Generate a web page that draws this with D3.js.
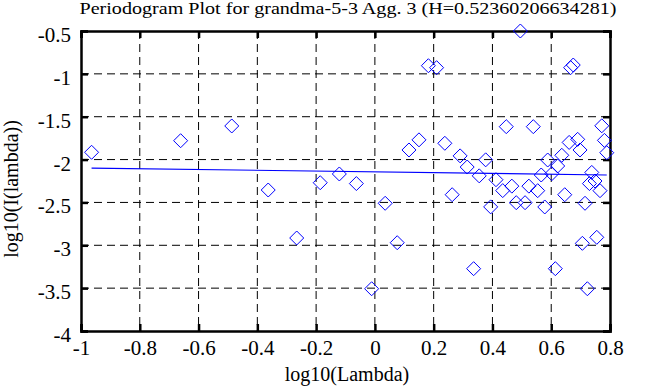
<!DOCTYPE html>
<html>
<head>
<meta charset="utf-8">
<script src="https://cdn.jsdelivr.net/npm/d3@7"></script>
<style>
  body { margin: 0; background: #fff; }
  svg text { font-family: "Liberation Serif"; }
</style>
</head>
<body>
<div id="chart"></div>
<script>
// periodogram points, log10(lambda) vs log10(I(lambda))
const xVals = [-0.964, -0.661, -0.487, -0.363, -0.266, -0.186, -0.121, -0.063, -0.011, 0.035,
  0.076, 0.116, 0.150, 0.182, 0.210, 0.238, 0.263, 0.290, 0.314, 0.336,
  0.355, 0.377, 0.394, 0.412, 0.435, 0.447, 0.466, 0.481, 0.495, 0.511,
  0.524, 0.539, 0.554, 0.566, 0.578, 0.588, 0.602, 0.622, 0.614, 0.636,
  0.646, 0.661, 0.666, 0.675, 0.690, 0.698, 0.706, 0.715, 0.723, 0.730,
  0.738, 0.749, 0.755, 0.766, 0.772, 0.781, 0.789];
const yVals = [-1.915, -1.780, -1.608, -2.355, -2.915, -2.270, -2.168, -2.280, -3.507, -2.510,
  -2.970, -1.888, -1.770, -0.905, -0.928, -1.810, -2.410, -1.957, -2.087, -3.273,
  -2.190, -2.003, -2.552, -2.235, -2.362, -1.616, -2.310, -2.503, -0.500, -2.503,
  -2.310, -1.616, -2.363, -2.180, -2.553, -2.005, -2.165, -2.075, -3.273, -1.950,
  -2.410, -1.800, -0.928, -0.897, -1.764, -1.888, -2.977, -2.510, -3.507, -2.280,
  -2.150, -2.250, -2.907, -2.363, -1.606, -1.776, -1.920];
// least squares fit end points
const fitX = [-0.964, 0.789];
const fitY = [-2.099, -2.180];

const xTicks = [-1, -0.8, -0.6, -0.4, -0.2, 0, 0.2, 0.4, 0.6, 0.8];
const yTicks = [-4, -3.5, -3, -2.5, -2, -1.5, -1, -0.5];

const title = "Periodogram Plot for grandma-5-3 Agg. 3 (H=0.52360206634281)";
const xLabel = "log10(Lambda)";
const yLabel = "log10(I(lambda))";

const W = 653, H = 387;
const pLeft = 81, pRight = 610, pTop = 31, pBottom = 331;
const fontFam = '"Liberation Serif"';

const svg = d3.select("#chart").append("svg")
  .attr("width", W).attr("height", H);

const x = d3.scaleLinear().domain([-1, 0.8]).range([pLeft, pRight]);
const y = d3.scaleLinear().domain([-4, -0.5]).range([pBottom, pTop]);

// plain hyphen minus like the original
const fmt = d => String(d);

// dashed grid
svg.append("g").selectAll("line")
  .data(xTicks.slice(1, -1))
  .enter().append("line")
  .attr("x1", d => x(d)).attr("x2", d => x(d))
  .attr("y1", pTop).attr("y2", pBottom)
  .attr("stroke", "#000").attr("stroke-dasharray", "8,5");
svg.append("g").selectAll("line")
  .data(yTicks.slice(1, -1))
  .enter().append("line")
  .attr("y1", d => y(d)).attr("y2", d => y(d))
  .attr("x1", pLeft).attr("x2", pRight)
  .attr("stroke", "#000").attr("stroke-dasharray", "8,5");

// axes with inward ticks on all four sides
const tick = 7;
const xAxisG = svg.append("g").attr("transform", `translate(0,${pBottom})`)
  .call(d3.axisBottom(x).tickValues(xTicks).tickSize(-tick).tickPadding(9)
    .tickFormat(fmt));
svg.append("g").attr("transform", `translate(0,${pTop})`)
  .call(d3.axisTop(x).tickValues(xTicks).tickSize(-tick).tickFormat(""));
const yAxisG = svg.append("g").attr("transform", `translate(${pLeft},0)`)
  .call(d3.axisLeft(y).tickValues(yTicks).tickSize(-tick).tickPadding(10)
    .tickFormat(fmt));
svg.append("g").attr("transform", `translate(${pRight},0)`)
  .call(d3.axisRight(y).tickValues(yTicks).tickSize(-tick).tickFormat(""));

[xAxisG, yAxisG].forEach(g => g.attr("font-family", "Liberation Serif").attr("font-size", 21));
svg.selectAll(".domain").attr("stroke", "#000").attr("stroke-width", 2.5);
svg.selectAll(".tick line").attr("stroke", "#000").attr("stroke-width", 2.5);
svg.selectAll(".tick text").style("font-family", fontFam).style("font-size", "21px")
  .attr("fill", "#000");
yAxisG.selectAll(".tick text").attr("dy", "0.5em");

// fit line
svg.append("path")
  .datum(d3.zip(fitX, fitY))
  .attr("d", d3.line().x(d => x(d[0])).y(d => y(d[1])))
  .attr("stroke", "#0000ff").attr("stroke-width", 1.2).attr("fill", "none");

// diamonds
const pts = d3.zip(xVals, yVals);
const r = 7;
svg.append("g").selectAll("path")
  .data(pts)
  .enter().append("path")
  .attr("transform", d => `translate(${x(d[0])},${y(d[1])})`)
  .attr("d", `M0,${-r}L${r},0L0,${r}L${-r},0Z`)
  .attr("fill", "none").attr("stroke", "#0000ff").attr("stroke-width", 1);

// titles
function label(t, tr, size) {
  return svg.append("text").attr("transform", tr)
    .attr("text-anchor", "middle")
    .style("font-family", fontFam).style("font-size", size + "px")
    .text(t);
}
label(title, "translate(348,14)", 16)
  .attr("textLength", 537).attr("lengthAdjust", "spacingAndGlyphs");
label(xLabel, "translate(347,381)", 20);
label(yLabel, "translate(18,189) rotate(-90)", 20);
</script>
</body>
</html>
